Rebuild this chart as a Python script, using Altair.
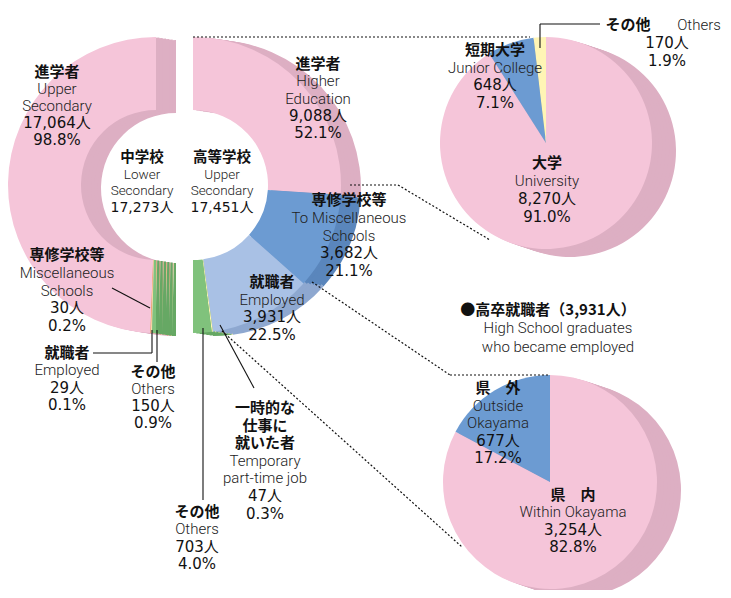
import altair as alt
import pandas as pd
import math

# ---------------- data ----------------
# 中学校 (Lower Secondary) graduates
jh_jp = ["進学者", "専修学校等", "就職者", "その他"]
jh_en = ["Upper|Secondary", "Miscellaneous|Schools", "Employed", "Others"]
jh_count = [17064, 30, 29, 150]
jh_pct = [98.8, 0.2, 0.1, 0.9]
jh_title = ["中学校", "Lower|Secondary"]
jh_total = 17273

# 高等学校 (Upper Secondary) graduates
hs_jp = ["進学者", "専修学校等", "就職者", "一時的な\n仕事に\n就いた者", "その他"]
hs_en = ["Higher|Education", "To Miscellaneous|Schools", "Employed", "Temporary|part-time job", "Others"]
hs_count = [9088, 3682, 3931, 47, 703]
hs_pct = [52.1, 21.1, 22.5, 0.3, 4.0]
hs_title = ["高等学校", "Upper|Secondary"]
hs_total = 17451

# 進学者 breakdown
he_jp = ["大学", "短期大学", "その他"]
he_en = ["University", "Junior College", "Others"]
he_count = [8270, 648, 170]
he_pct = [91.0, 7.1, 1.9]

# 高卒就職者 breakdown
emp_jp = ["県　内", "県　外"]
emp_en = ["Within Okayama", "Outside|Okayama"]
emp_count = [3254, 677]
emp_pct = [82.8, 17.2]
emp_title = ["●高卒就職者（{:,}人）", "High School graduates", "who became employed"]
emp_total = 3931

# ---------------- layout / style ----------------
W, H = 715, 582
M = 8

PINK, PINK_S = "#F5C5D9", "#DDAFC3"
BLUE, BLUE_S = "#6C9BD2", "#5A86BC"
LBLUE, LBLUE_S = "#A9C1E5", "#8EA8D0"
GREEN, GREEN_S = "#80C27C", "#66A864"
YELLOW, YELLOW_S = "#FFF5B5", "#E4DA9A"
ORANGE, ORANGE_S = "#F3A04C", "#D4883A"

JP = "Noto Sans CJK JP"
EN = "Roboto, Lato, Noto Sans"
NUM = "DejaVu Sans, Noto Sans CJK JP"


def pg(v):
    return v - M


def arc_df(keys, counts, stack_order):
    return pd.DataFrame({"key": keys, "n": counts,
                         "rank": [stack_order.index(k) for k in keys]})


def arcs(df, cx, cy, r, r2, trange, colors, dx=0, dy=0):
    mk = dict(x=pg(cx) + dx, y=pg(cy) + dy, radius=r)
    if r2:
        mk["radius2"] = r2
    return alt.Chart(df).mark_arc(**mk).encode(
        theta=alt.Theta("n:Q", stack=True, scale=alt.Scale(range=list(trange))),
        color=alt.Color("key:N", scale=alt.Scale(domain=list(df["key"]), range=colors), legend=None),
        order=alt.Order("rank:Q"),
    )


def solid(df, cx, cy, r, r2, trange, colors, side, depth, ddy, steps):
    layers = []
    for i in range(steps, 0, -1):
        f = i / steps
        layers.append(arcs(df, cx, cy, r, r2, trange, side, dx=depth * f, dy=ddy * f))
    face = arcs(df, cx, cy, r, r2, trange, colors)
    return layers, face


PI = math.pi
jh_df = arc_df(jh_jp, jh_count, ["その他", "就職者", "専修学校等", "進学者"])
hs_df = arc_df(hs_jp, hs_count, hs_jp)
he_df = arc_df(he_jp, he_count, he_jp)
emp_df = arc_df(emp_jp, emp_count, emp_jp)

sides, faces = [], []
s, f = solid(jh_df, 156, 185, 148, 75, (PI, 2 * PI),
             [PINK, ORANGE, YELLOW, GREEN], [PINK_S, ORANGE_S, YELLOW_S, GREEN_S], 20, 3, 6)
sides += s; faces.append(f)
s, f = solid(hs_df, 193, 185, 148, 75, (0, PI),
             [PINK, BLUE, LBLUE, YELLOW, GREEN], [PINK_S, BLUE_S, LBLUE_S, YELLOW_S, GREEN_S], 20, 3, 6)
sides += s; faces.append(f)
s, f = solid(he_df, 546, 143, 106, 0, (0, 2 * PI),
             [PINK, BLUE, YELLOW], [PINK_S, BLUE_S, YELLOW_S], 24, 8, 7)
sides += s; faces.append(f)
s, f = solid(emp_df, 550, 482, 107, 0, (0, 2 * PI),
             [PINK, BLUE], [PINK_S, BLUE_S], 24, 8, 7)
sides += s; faces.append(f)


# ---------------- labels ----------------
def lines_for(jp, en, count, pct, small=False):
    J, E, N = ("j", "e", "n") if small else ("J", "E", "N")
    out = [(J, jp)]
    out += [(E, t) for t in en.split("|")]
    out.append((N, f"{count:,}人"))
    if pct is not None:
        out.append((N, f"{pct:.1f}%"))
    return out


rows = []


def block(x, y0, step, lines):
    i = 0
    for st, t in lines:
        k = t.count("\n") + 1
        rows.append(dict(x=pg(x), y=pg(y0 + i * step), t=t, s=st))
        i += k


block(57, 72, 17, lines_for(jh_jp[0], jh_en[0], jh_count[0], jh_pct[0]))
block(67, 255, 17.8, lines_for(jh_jp[1], jh_en[1], jh_count[1], jh_pct[1]))
block(67, 353, 17.3, lines_for(jh_jp[2], jh_en[2], jh_count[2], jh_pct[2]))
block(153, 372, 17, lines_for(jh_jp[3], jh_en[3], jh_count[3], jh_pct[3]))
block(142, 158, 16.7, lines_for(jh_title[0], jh_title[1], jh_total, None, small=True))
block(222, 158, 16.7, lines_for(hs_title[0], hs_title[1], hs_total, None, small=True))
block(318, 64, 17.3, lines_for(hs_jp[0], hs_en[0], hs_count[0], hs_pct[0]))
block(349, 200, 17.8, lines_for(hs_jp[1], hs_en[1], hs_count[1], hs_pct[1]))
block(272, 282, 17.7, lines_for(hs_jp[2], hs_en[2], hs_count[2], hs_pct[2]))
block(265, 408, 17.6, lines_for(hs_jp[3], hs_en[3], hs_count[3], hs_pct[3]))
block(197, 512, 17.3, lines_for(hs_jp[4], hs_en[4], hs_count[4], hs_pct[4]))
block(547, 163, 18, lines_for(he_jp[0], he_en[0], he_count[0], he_pct[0]))
block(495, 50, 17.7, lines_for(he_jp[1], he_en[1], he_count[1], he_pct[1]))
block(628, 25, 18, [("J", he_jp[2])])
block(699, 25, 18, [("E", he_en[2])])
block(667, 43, 18, [("N", f"{he_count[2]:,}人"), ("N", f"{he_pct[2]:.1f}%")])
block(573, 495, 17.3, lines_for(emp_jp[0], emp_en[0], emp_count[0], emp_pct[0]))
block(498, 388, 17.5, lines_for(emp_jp[1], emp_en[1], emp_count[1], emp_pct[1]))
block(548, 310, 0, [("J", emp_title[0].format(emp_total))])
block(558, 328, 19, [("E", emp_title[1]), ("E", emp_title[2])])

lab = pd.DataFrame(rows)

STYLES = {
    "J": dict(font=JP, fontSize=15, fontWeight="bold", fill="#111"),
    "E": dict(font=EN, fontSize=15, fontWeight=300, fill="#222"),
    "N": dict(font=NUM, fontSize=15, fontWeight="normal", fill="#111"),
    "j": dict(font=JP, fontSize=14.5, fontWeight="bold", fill="#111"),
    "e": dict(font=EN, fontSize=13.5, fontWeight=300, fill="#222"),
    "n": dict(font=NUM, fontSize=14, fontWeight="normal", fill="#111"),
}

XE = alt.X("x:Q", scale=None, axis=None)
YE = alt.Y("y:Q", scale=None, axis=None)

text_layers = []
for st, sty in STYLES.items():
    d = lab[lab["s"] == st]
    if d.empty:
        continue
    text_layers.append(alt.Chart(d).mark_text(
        font=sty["font"], fontSize=sty["fontSize"], fontWeight=sty["fontWeight"],
        align="center", baseline="middle", fill=sty["fill"], lineBreak="\n", lineHeight=17.6,
    ).encode(x=XE, y=YE, text="t:N"))

# ---------------- connector lines ----------------
dashed = [
    (193, 37, 530, 37),
    (350, 185, 398, 185),
    (398, 185, 490, 240),
    (312, 282, 450, 375),
    (450, 375, 550, 375),
    (222, 331, 462, 547),
]
solid_lines = [
    (112, 288, 150, 308),
    (93, 353, 152, 353),
    (152, 353, 152, 330),
    (157, 330, 157, 362),
    (203, 328, 203, 500),
    (220, 325, 254, 388),
    (540, 48, 540, 24),
    (540, 24, 600, 24),
]


def seg_df(segs):
    return pd.DataFrame([dict(x=pg(a), y=pg(b), x2=pg(c), y2=pg(d)) for a, b, c, d in segs])


dash_layer = alt.Chart(seg_df(dashed)).mark_rule(strokeDash=[2, 2], strokeWidth=1.2, color="#111").encode(
    x=XE, y=YE, x2="x2:Q", y2="y2:Q")
solid_layer = alt.Chart(seg_df(solid_lines)).mark_rule(strokeWidth=1.1, color="#111").encode(
    x=XE, y=YE, x2="x2:Q", y2="y2:Q")

chart = alt.layer(*sides, *faces, dash_layer, solid_layer, *text_layers).resolve_scale(
    theta="independent", color="independent"
).properties(
    width=W, height=H, padding=0, background="white",
    autosize=alt.AutoSizeParams(type="none"),
).configure_view(stroke=None)

chart.save("out.html", embed_options={"renderer": "svg", "actions": False})
